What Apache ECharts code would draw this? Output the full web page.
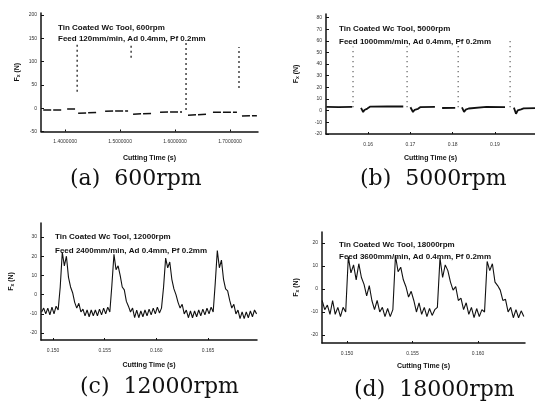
<!DOCTYPE html>
<html><head><meta charset="utf-8">
<script src="https://cdn.jsdelivr.net/npm/echarts@6/dist/echarts.min.js"></script>
<style>html,body{margin:0;padding:0;background:#fff}#c{width:535px;height:404px}</style>
</head><body><div id="c"></div>
<script>
// ---------- (a) 600 rpm ----------
const baseTimeA  = [1.3600,1.3945,null,1.4036,1.4180,null,1.4236,1.4580,null,1.4727,1.5145,null,1.5236,1.5600,null,1.5727,1.6127,null,1.6236,1.6580,null,1.6690,1.7127,null,1.7218,1.7490];
const baseForceA = [-4,-4,null,-2,-2,null,-11,-9,null,-6.5,-6,null,-13,-11,null,-8.6,-8,null,-15,-13,null,-9,-8.5,null,-17,-16];
const spikeTimeA = [1.4218,1.5200,1.6200,1.7164];
const spikeTopA = [140,140,146,131];
const spikeBottomA = [35,108,-4,43];
const xTicksA = [1.4,1.5,1.6,1.7];
const yTicksA = [-50,0,50,100,150,200];

// ---------- (b) 5000 rpm ----------
const baseTimeB = [0.1501,0.1530,0.1562,null,0.1583,0.1588,0.1591,0.1594,0.1598,0.1605,0.1645,0.1683,null,0.1700,0.1706,0.1710,0.1714,0.1718,0.1723,0.1758,null,0.1775,0.1806,null,0.1822,0.1827,0.1831,0.1834,0.1838,0.1842,0.1880,0.1924,null,0.1945,0.1950,0.1954,0.1957,0.1962,0.1968,0.1995];
const baseForceB = [3.3,3.0,3.2,null,2.5,-1.2,0.6,-0.6,1.8,3.5,3.7,3.6,null,3.0,-1.1,0.8,-0.4,1.6,3.0,3.2,null,2.3,2.4,null,2.8,-1.0,0.9,-0.5,1.9,3.2,3.3,3.1,null,2.6,-2.6,0.2,-1.0,1.2,2.0,2.2];
const spikeTimeB = [0.1564,0.1692,0.1813,0.1936];
const spikeTopB = [55,56,56,60];
const spikeBottomB = [3,3,3,3];
const xTicksB = [0.16,0.17,0.18,0.19];
const yTicksB = [-20,-10,0,10,20,30,40,50,60,70,80];

// ---------- (c) 12000 rpm (samples every 0.2 ms) ----------
const sampleStartC = 0.1489, sampleStepC = 0.0002;
const forceC = [-9,-7,-10,-7,-10.5,-6.5,-10,-6,-8,4,22,15,20,9,4,1,-4,-7,-4.5,-9,-7.5,-11,-8,-11.5,-8,-11,-8,-11,-7.5,-10.5,-7,-10,-6.5,-9,5,21,13,15,10,4,2.5,-3.5,-6,-9,-7,-12,-8,-12,-8.5,-11.5,-8,-11,-7.5,-10.5,-7,-10,-6.5,-9.5,-7,4,19,14,17,8,3,0,-4,-7,-5,-10,-8,-12,-8.5,-12,-8.5,-11.5,-8,-11,-7.5,-10.5,-7,-10,-6.5,-9,6,23,14,18,8,3,2,-3,-7,-5,-10,-8,-12.5,-9,-12.5,-9,-12,-8.5,-11.5,-8,-10];
const xTicksC = [0.150,0.155,0.160,0.165];
const yTicksC = [-20,-10,0,10,20,30];

// ---------- (d) 18000 rpm (samples every 0.2 ms) ----------
const sampleStartD = 0.1481, sampleStepD = 0.0002;
const forceD = [-5,-9,-7,-11,-5,-11,-8,-12,-8,-10,14,7,10.5,4,11,5,2,-3,1.5,-5,-9,-5,-10,-8,-12,-8.5,-12,-9,14.5,7.5,9.5,4,1,-3.5,-1,-5,-10,-6,-11,-8,-12,-8.5,-11.5,-9,-8,13.5,5,10.5,8,3,-0.5,1,-5,-4,-9,-6,-11,-8,-12.5,-8.5,-12,-9,-10,12,8,11,3,1.5,-0.5,-5,-4.5,-10,-8,-12.5,-9,-12.5,-9.5,-12];
const xTicksD = [0.150,0.155,0.160];
const yTicksD = [-20,-10,0,10,20];

// ---------- texts ----------
const toolLines = ['Tin Coated Wc Tool, 600rpm','Tin Coated Wc Tool, 5000rpm','Tin Coated Wc Tool, 12000rpm','Tin Coated Wc Tool, 18000rpm'];
const feedLines = ['Feed 120mm/min, Ad 0.4mm, Pf 0.2mm','Feed 1000mm/min, Ad 0.4mm, Pf 0.2mm','Feed 2400mm/min, Ad 0.4mm, Pf 0.2mm','Feed 3600mm/min, Ad 0.4mm, Pf 0.2mm'];
const captions = ['(a)  600rpm','(b)  5000rpm','(c)  12000rpm','(d)  18000rpm'];

// ---------- build ----------
function pairs(ts, vs){
  const out=[];
  for(let i=0;i<ts.length;i++){
    if(ts[i]===null){ out.push([ts[i-1],'-']); } else out.push([ts[i],vs[i]]);
  }
  return out;
}
function spikes(ts, tops, bots){
  const out=[];
  for(let i=0;i<ts.length;i++){ out.push([ts[i],bots[i]]); out.push([ts[i],tops[i]]); out.push([ts[i],'-']); }
  return out;
}
function sampled(t0, dt, vs){ return vs.map((v,i)=>[t0+dt*i, v]); }

const grids = [
  {left:41, top:13, width:217, height:118.5},
  {left:326, top:14, width:209, height:120},
  {left:41, top:223, width:216, height:117},
  {left:322, top:232, width:203, height:111}
];
const xr = [[1.356,1.751],[0.1500,0.1995],[0.14884,0.16974],[0.14809,0.16359]];
const yr = [[-50,204],[-20,83],[-23.6,37.3],[-23.5,24.8]];
const xt = [xTicksA,xTicksB,xTicksC,xTicksD];
const yt = [yTicksA,yTicksB,yTicksC,yTicksD];
const xfmt = [v=>v.toFixed(7), v=>v.toFixed(2), v=>v.toFixed(3), v=>v.toFixed(3)];
const xNameGap = [23,21,22,20];
const yNameGap = [20,26,26,22];

const axisLine = {show:true, onZero:false, lineStyle:{color:'#111', width:1.5}};
const xAxes = grids.map((g,i)=>({
  type:'value', gridIndex:i, min:xr[i][0], max:xr[i][1],
  axisLine:axisLine,
  axisTick:{show:true, inside:true, length:2, customValues:xt[i], lineStyle:{color:'#111'}},
  axisLabel:{customValues:xt[i], formatter:xfmt[i], fontSize:5, color:'#333', margin:8, fontFamily:'Liberation Sans'},
  splitLine:{show:false},
  name:'Cutting Time (s)', nameLocation:'middle', nameGap:xNameGap[i],
  nameTextStyle:{fontSize:7, fontWeight:'bold', color:'#111', fontFamily:'Liberation Sans'}
}));
const yAxes = grids.map((g,i)=>({
  type:'value', gridIndex:i, min:yr[i][0], max:yr[i][1],
  axisLine:axisLine,
  axisTick:{show:true, inside:true, length:3, customValues:yt[i], lineStyle:{color:'#111'}},
  axisLabel:{customValues:yt[i], fontSize:5, color:'#333', margin:4, fontFamily:'Liberation Sans'},
  splitLine:{show:false},
  name:'F{s|x} (N)', nameLocation:'middle', nameGap:yNameGap[i], nameRotate:90,
  nameTextStyle:{fontSize:7, fontWeight:'bold', color:'#111', fontFamily:'Liberation Sans',
    rich:{s:{fontSize:5, fontWeight:'bold', color:'#111', verticalAlign:'bottom', fontFamily:'Liberation Sans'}}}
}));

const lineBase = (i, data, width, type)=>({
  type:'line', xAxisIndex:i, yAxisIndex:i, data:data, symbol:'none', showSymbol:false,
  connectNulls:false, animation:false, silent:true,
  lineStyle:{color:'#111', width:width, type:type||'solid'}
});

const series = [
  lineBase(0, pairs(baseTimeA, baseForceA), 1.5, [8,2]),
  lineBase(0, spikes(spikeTimeA, spikeTopA, spikeBottomA), 1.2, [2,3]),
  lineBase(1, pairs(baseTimeB, baseForceB), 1.8),
  lineBase(1, spikes(spikeTimeB, spikeTopB, spikeBottomB), 1, [1,4]),
  lineBase(2, sampled(sampleStartC, sampleStepC, forceC), 1.1),
  lineBase(3, sampled(sampleStartD, sampleStepD, forceD), 1.1)
];

const annPos = [[58,24,58,35],[339,25,339,38],[55,233,55,247],[339,241,339,253]];
const capPos = [[70,168],[360,168],[80,376],[354,379]];
const titles = [];
for(let i=0;i<4;i++){
  const ts = {fontSize:8, fontWeight:'bold', color:'#111', fontFamily:'Liberation Sans'};
  titles.push({text:toolLines[i], left:annPos[i][0], top:annPos[i][1], padding:0, textStyle:ts});
  titles.push({text:feedLines[i], left:annPos[i][2], top:annPos[i][3], padding:0, textStyle:ts});
  titles.push({text:captions[i], left:capPos[i][0], top:capPos[i][1], padding:0,
    textStyle:{fontSize:22, fontWeight:'normal', color:'#111', fontFamily:'DejaVu Serif'}});
}

const chart = echarts.init(document.getElementById('c'), null, {renderer:'canvas'});
chart.setOption({
  backgroundColor:'#fff', animation:false,
  title:titles, grid:grids, xAxis:xAxes, yAxis:yAxes, series:series
});
</script></body></html>
